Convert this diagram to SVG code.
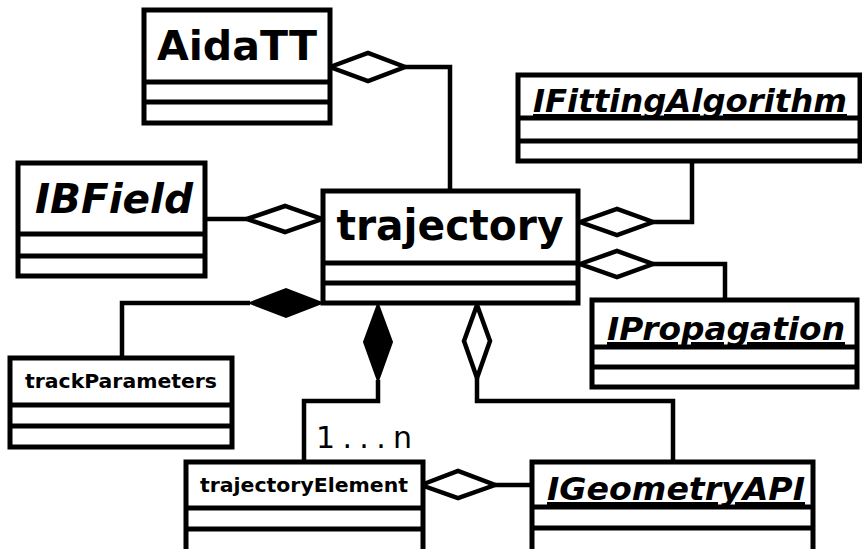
<svg xmlns="http://www.w3.org/2000/svg" width="862" height="549" viewBox="0 0 862 549">
  <style>
    .box { fill: #ffffff; stroke: #000000; stroke-width: 5; }
    .sep { stroke: #000000; stroke-width: 5; }
    .name { font-family: "DejaVu Sans", "Liberation Sans", sans-serif; font-weight: bold; fill: #000000; text-anchor: middle; }
    .abstract { font-style: oblique; text-decoration: underline; }
    .wire { fill: none; stroke: #000000; stroke-width: 4.5; stroke-linejoin: miter; }
    .agg { fill: #ffffff; stroke: #000000; stroke-width: 4.5; stroke-linejoin: miter; }
    .comp { fill: #000000; stroke: #000000; stroke-width: 2; stroke-linejoin: miter; }
    .mult { font-family: "DejaVu Sans", "Liberation Sans", sans-serif; font-size: 30px; fill: #000000; }
  </style>

  <!-- associations -->
  <g id="connectors">
    <!-- AidaTT aggregates trajectory -->
    <polyline class="wire" points="405,67 450,67 450,190"/>
    <polygon class="agg" points="330,67 368,53 405,67 368,81"/>
    <!-- IBField -->
    <line class="wire" x1="205" y1="219" x2="247" y2="219"/>
    <polygon class="agg" points="247,219 285,206 322,219 285,232"/>
    <!-- IFittingAlgorithm -->
    <polyline class="wire" points="653,222 692,222 692,161"/>
    <polygon class="agg" points="580,222 617,209 653,222 617,235"/>
    <!-- IPropagation -->
    <polyline class="wire" points="653,264 725,264 725,300"/>
    <polygon class="agg" points="580,264 617,251 653,264 617,277"/>
    <!-- trackParameters (composition) -->
    <polyline class="wire" points="250,303 122,303 122,358"/>
    <polygon class="comp" points="322,303 286,289 250,303 286,317"/>
    <!-- trajectoryElement (composition, 1...n) -->
    <polyline class="wire" points="378,380 378,401 304,401 304,462"/>
    <polygon class="comp" points="378,304 392,342 378,381 364,342"/>
    <!-- IGeometryAPI aggregated by trajectory -->
    <polyline class="wire" points="477,378 477,401 673,401 673,462"/>
    <polygon class="agg" points="477,305 490,341 477,378 464,341"/>
    <!-- trajectoryElement aggregates IGeometryAPI -->
    <line class="wire" x1="495" y1="485" x2="532" y2="485"/>
    <polygon class="agg" points="421,485 458,471 495,485 458,498"/>
    <text class="mult" x="316" y="448" textLength="96" lengthAdjust="spacing">1...n</text>
  </g>

  <g id="AidaTT">
    <rect class="box" x="144" y="10" width="186" height="113"/>
    <line class="sep" x1="144" y1="82" x2="330" y2="82"/>
    <line class="sep" x1="144" y1="102" x2="330" y2="102"/>
    <text class="name" x="237" y="60" font-size="41" textLength="160" lengthAdjust="spacingAndGlyphs">AidaTT</text>
  </g>

  <g id="IFittingAlgorithm">
    <rect class="box" x="518" y="75" width="342" height="86"/>
    <line class="sep" x1="518" y1="118" x2="860" y2="118"/>
    <line class="sep" x1="518" y1="141" x2="860" y2="141"/>
    <text class="name abstract" x="690" y="112" font-size="32" textLength="314" lengthAdjust="spacingAndGlyphs">IFittingAlgorithm</text>
  </g>

  <g id="IBField">
    <rect class="box" x="18" y="163" width="187" height="113"/>
    <line class="sep" x1="18" y1="234" x2="205" y2="234"/>
    <line class="sep" x1="18" y1="256" x2="205" y2="256"/>
    <text class="name" x="114" y="213" font-size="41" font-style="oblique" textLength="158" lengthAdjust="spacingAndGlyphs">IBField</text>
  </g>

  <g id="trajectory">
    <rect class="box" x="323" y="191" width="255" height="112"/>
    <line class="sep" x1="323" y1="263" x2="578" y2="263"/>
    <line class="sep" x1="323" y1="283" x2="578" y2="283"/>
    <text class="name" x="450" y="240" font-size="42" textLength="227" lengthAdjust="spacingAndGlyphs">trajectory</text>
  </g>

  <g id="IPropagation">
    <rect class="box" x="592" y="300" width="265" height="87"/>
    <line class="sep" x1="592" y1="347" x2="857" y2="347"/>
    <line class="sep" x1="592" y1="367" x2="857" y2="367"/>
    <text class="name abstract" x="726" y="340" font-size="32" textLength="238" lengthAdjust="spacingAndGlyphs">IPropagation</text>
  </g>

  <g id="trackParameters">
    <rect class="box" x="10" y="358" width="222" height="89"/>
    <line class="sep" x1="10" y1="405" x2="232" y2="405"/>
    <line class="sep" x1="10" y1="426" x2="232" y2="426"/>
    <text class="name" x="121" y="388" font-size="20" textLength="192" lengthAdjust="spacingAndGlyphs">trackParameters</text>
  </g>

  <g id="trajectoryElement">
    <rect class="box" x="186" y="462" width="237" height="92"/>
    <line class="sep" x1="186" y1="508" x2="423" y2="508"/>
    <line class="sep" x1="186" y1="529" x2="423" y2="529"/>
    <text class="name" x="304" y="492" font-size="20" textLength="208" lengthAdjust="spacingAndGlyphs">trajectoryElement</text>
  </g>

  <g id="IGeometryAPI">
    <rect class="box" x="532" y="462" width="281" height="92"/>
    <line class="sep" x1="532" y1="507" x2="813" y2="507"/>
    <line class="sep" x1="532" y1="528" x2="813" y2="528"/>
    <text class="name abstract" x="676" y="500" font-size="32" textLength="258" lengthAdjust="spacingAndGlyphs">IGeometryAPI</text>
  </g>
</svg>
